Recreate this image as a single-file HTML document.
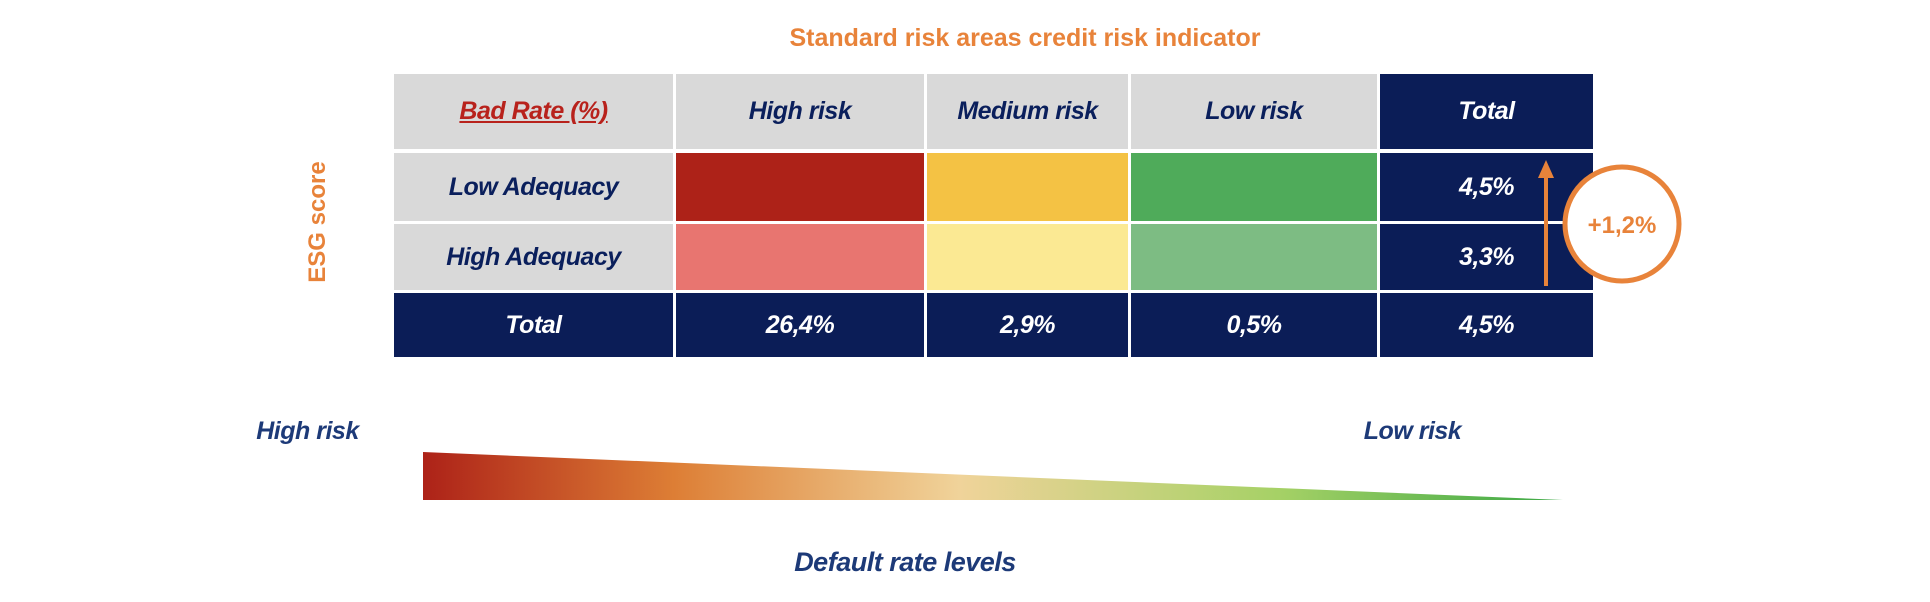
<!DOCTYPE html>
<html><head><meta charset="utf-8"><style>
body{margin:0;width:1930px;height:602px;background:#fff;position:relative;overflow:hidden;font-family:"Liberation Sans",sans-serif;}
.a{position:absolute;}
.c{position:absolute;display:flex;align-items:center;justify-content:center;font-weight:bold;font-style:italic;font-size:25px;letter-spacing:-0.5px;box-sizing:border-box;white-space:nowrap;}
.g{background:#d9d9d9;color:#0a1f5c;}
.n{background:#0b1d57;color:#fff;}
</style></head><body>
<div class="a" style="left:0;width:2050px;top:24px;text-align:center;color:#e8833a;font-weight:bold;font-size:25px;">Standard risk areas credit risk indicator</div>
<div class="a" style="left:318px;top:222px;transform:translate(-50%,-50%) rotate(-90deg);color:#e8833a;font-weight:bold;font-size:24px;white-space:nowrap;">ESG score</div>

<div class="c g" style="left:394px;top:74px;width:279px;height:75px;"><span style="color:#b8221c;text-decoration:underline;">Bad Rate (%)</span></div>
<div class="c g" style="left:676px;top:74px;width:248px;height:75px;">High risk</div>
<div class="c g" style="left:927px;top:74px;width:201px;height:75px;">Medium risk</div>
<div class="c g" style="left:1131px;top:74px;width:246px;height:75px;">Low risk</div>
<div class="c n" style="left:1380px;top:74px;width:213px;height:75px;">Total</div>

<div class="c g" style="left:394px;top:153px;width:279px;height:68px;">Low Adequacy</div>
<div class="a" style="left:676px;top:153px;width:248px;height:68px;background:#ad2218;"></div>
<div class="a" style="left:927px;top:153px;width:201px;height:68px;background:#f4c244;"></div>
<div class="a" style="left:1131px;top:153px;width:246px;height:68px;background:#4fab5a;"></div>
<div class="c n" style="left:1380px;top:153px;width:213px;height:68px;">4,5%</div>

<div class="c g" style="left:394px;top:224px;width:279px;height:66px;">High Adequacy</div>
<div class="a" style="left:676px;top:224px;width:248px;height:66px;background:#e87570;"></div>
<div class="a" style="left:927px;top:224px;width:201px;height:66px;background:#fbe993;"></div>
<div class="a" style="left:1131px;top:224px;width:246px;height:66px;background:#7dbc83;"></div>
<div class="c n" style="left:1380px;top:224px;width:213px;height:66px;">3,3%</div>

<div class="c n" style="left:394px;top:293px;width:279px;height:64px;">Total</div>
<div class="c n" style="left:676px;top:293px;width:248px;height:64px;">26,4%</div>
<div class="c n" style="left:927px;top:293px;width:201px;height:64px;">2,9%</div>
<div class="c n" style="left:1131px;top:293px;width:246px;height:64px;">0,5%</div>
<div class="c n" style="left:1380px;top:293px;width:213px;height:64px;">4,5%</div>

<svg class="a" style="left:0;top:0" width="1930" height="602">
<defs><linearGradient id="gr" x1="423" x2="1563" y1="0" y2="0" gradientUnits="userSpaceOnUse">
<stop offset="0" stop-color="#ad2218"/><stop offset="0.22" stop-color="#dd7e35"/><stop offset="0.47" stop-color="#f0d39a"/><stop offset="0.75" stop-color="#a6d166"/><stop offset="1" stop-color="#3aa845"/></linearGradient></defs>
<line x1="1546" y1="286" x2="1546" y2="175" stroke="#e8833a" stroke-width="4"/>
<polygon points="1538,178 1554,178 1546,160" fill="#e8833a"/>
<circle cx="1622" cy="224" r="57" fill="#fff" stroke="#e8833a" stroke-width="5"/>
<text x="1622" y="233" text-anchor="middle" fill="#e8833a" font-family="Liberation Sans" font-weight="bold" font-size="24">+1,2%</text>
<polygon points="423,452 1563,500 423,500" fill="url(#gr)"/>
</svg>

<div class="c" style="left:240px;top:416px;width:135px;height:30px;color:#1d3a78;">High risk</div>
<div class="c" style="left:1345px;top:416px;width:135px;height:30px;color:#1d3a78;">Low risk</div>
<div class="c" style="left:755px;top:547px;width:300px;height:30px;color:#1d3a78;font-size:27px;">Default rate levels</div>
</body></html>
